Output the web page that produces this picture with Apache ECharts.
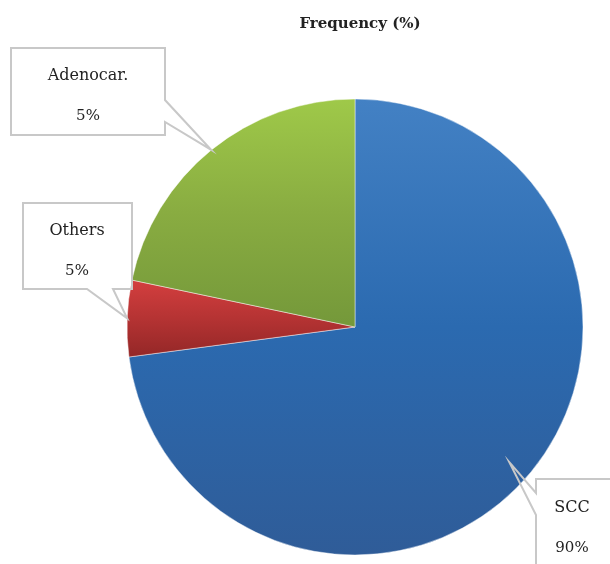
<!DOCTYPE html>
<html>
<head>
<meta charset="utf-8">
<script src="https://cdn.jsdelivr.net/npm/echarts@6/dist/echarts.min.js"></script>
<style>html,body{margin:0;padding:0;background:#fff;}#c{width:610px;height:564px;}</style>
</head>
<body>
<div id="c"></div>
<script>
// ---- data ----
const chartTitle = 'Frequency (%)';
const categories = ['SCC', 'Others', 'Adenocar.'];
const sliceValues = [72.9, 5.4, 21.7];          // slice sizes as drawn
const labelPercents = ['90%', '5%', '5%'];       // label texts as printed

// ---- layout / style ----
const CX = 355, CY = 327, R = 228;
const gradients = [
  ['#4381c4', '#2b6ab0', '#2f5c98'],
  ['#d43f3f', '#b53333', '#932727'],
  ['#9fc949', '#89ac41', '#74983a']
];
// callout boxes: box rect, pointer base, tip radius fraction, label center
const callouts = [
  { box: [536, 479, 90, 110], side: 'left', base: [493, 515], tipR: 0.9, label: [572, 528] },
  { box: [23, 203, 109, 86], side: 'bottom', base: [87, 113], tipR: 1.0, label: [77, 251] },
  { box: [11, 48, 154, 87], side: 'right', base: [100, 122], tipR: 1.0, label: [88, 96] }
];

const total = sliceValues.reduce((a, b) => a + b, 0);
function tipPoint(i, frac) {
  let cum = 0;
  for (let k = 0; k < i; k++) cum += sliceValues[k];
  const mid = (cum + sliceValues[i] / 2) / total * 2 * Math.PI; // clockwise from top
  return [CX + Math.sin(mid) * R * frac, CY - Math.cos(mid) * R * frac];
}
function calloutPoly(i) {
  const c = callouts[i];
  const [x, y, w, h] = c.box;
  const t = tipPoint(i, c.tipR);
  if (c.side === 'right') {
    return [[x, y], [x + w, y], [x + w, c.base[0]], t, [x + w, c.base[1]], [x + w, y + h], [x, y + h]];
  } else if (c.side === 'bottom') {
    return [[x, y], [x + w, y], [x + w, y + h], [c.base[1], y + h], t, [c.base[0], y + h], [x, y + h]];
  } else {
    return [[x, y], [x + w, y], [x + w, y + h], [x, y + h], [x, c.base[1]], t, [x, c.base[0]]];
  }
}

const chart = echarts.init(document.getElementById('c'), null, { renderer: 'canvas' });
const seriesData = categories.map((name, i) => ({
  name: name,
  value: sliceValues[i],
  itemStyle: {
    color: new echarts.graphic.LinearGradient(0, 0, 0, 1, [
      { offset: 0, color: gradients[i][0] },
      { offset: 0.5, color: gradients[i][1] },
      { offset: 1, color: gradients[i][2] }
    ])
  }
}));

const fills = categories.map((n, i) => ({
  type: 'polygon', z: 0,
  shape: { points: calloutPoly(i) },
  style: { fill: '#ffffff', stroke: null }
}));
const outlines = categories.map((n, i) => ({
  type: 'polygon', z: 50,
  shape: { points: calloutPoly(i) },
  style: { fill: null, stroke: '#c8c8c8', lineWidth: 2 }
}));

chart.setOption({
  animation: false,
  backgroundColor: '#ffffff',
  title: {
    text: chartTitle,
    left: 355, top: 12, textAlign: 'center',
    textStyle: { fontFamily: 'DejaVu Serif', fontWeight: 'bold', fontSize: 15, color: '#222' }
  },
  graphic: fills.concat(outlines),
  series: [{
    type: 'pie',
    center: [CX, CY],
    radius: [0, R],
    startAngle: 90,
    clockwise: true,
    z: 2,
    itemStyle: { borderColor: 'rgba(255,255,255,0.45)', borderWidth: 1 },
    label: {
      show: true,
      position: 'inside',
      overflow: 'none',
      formatter: p => '{n|' + p.name + '}\n{v|' + labelPercents[p.dataIndex] + '}',
      rich: {
        n: { fontFamily: 'DejaVu Serif', fontSize: 16, color: '#222', lineHeight: 40, align: 'center' },
        v: { fontFamily: 'DejaVu Serif', fontSize: 15, color: '#222', lineHeight: 40, align: 'center' }
      }
    },
    labelLine: { show: false },
    labelLayout: p => ({
      x: callouts[p.dataIndex].label[0],
      y: callouts[p.dataIndex].label[1],
      align: 'center',
      verticalAlign: 'middle',
      hideOverlap: false
    }),
    emphasis: { disabled: true },
    data: seriesData
  }]
});
</script>
</body>
</html>
